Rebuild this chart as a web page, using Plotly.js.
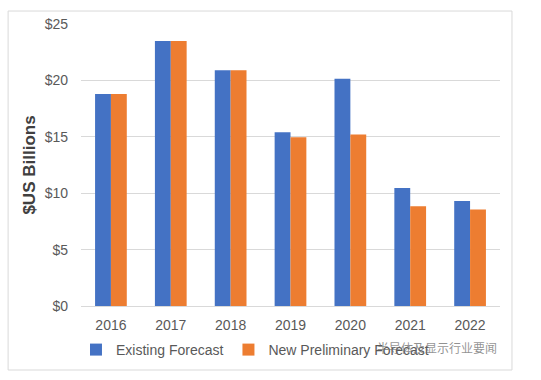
<!DOCTYPE html>
<html>
<head>
<meta charset="utf-8">
<script src="https://cdn.plot.ly/plotly-3.0.1.min.js"></script>
<style>
html,body{margin:0;padding:0;background:#fff;}
#chart{width:541px;height:380px;}
</style>
</head>
<body>
<div id="chart"></div>
<script>
const years = ['2016','2017','2018','2019','2020','2021','2022'];
const existingForecast = [18.8, 23.5, 20.9, 15.4, 20.15, 10.45, 9.3];
const newPreliminaryForecast = [18.8, 23.5, 20.9, 14.95, 15.2, 8.85, 8.55];
const seriesNames = ['Existing Forecast', 'New Preliminary Forecast'];
const yTickValues = [0, 5, 10, 15, 20, 25];
const yTickLabels = ['$0', '$5', '$10', '$15', '$20', '$25'];

const traces = [
  {type:'bar', name:seriesNames[0], x:years, y:existingForecast, marker:{color:'#4472C4'}, hoverinfo:'none'},
  {type:'bar', name:seriesNames[1], x:years, y:newPreliminaryForecast, marker:{color:'#ED7D31'}, hoverinfo:'none'}
];

const layout = {
  width:541, height:380,
  margin:{l:81, r:41, t:24, b:74},
  paper_bgcolor:'#ffffff', plot_bgcolor:'#ffffff',
  font:{family:'"Liberation Sans", Arial, sans-serif', color:'#595959', size:14},
  barmode:'group', bargap:0.47, bargroupgap:0,
  showlegend:true,
  legend:{orientation:'h', x:-0.012, xanchor:'left', y:-0.156, yanchor:'middle',
          font:{size:14, color:'#595959'}, itemwidth:30, tracegroupgap:0, traceorder:'normal'},
  xaxis:{type:'category', showgrid:false, showline:true, linecolor:'#d9d9d9', linewidth:1,
         ticks:'', ticklabelstandoff:6, tickfont:{size:14, color:'#595959'}},
  yaxis:{range:[0,25], tickvals:yTickValues, ticktext:yTickLabels, showgrid:true, gridcolor:'#d9d9d9',
         gridwidth:1, zeroline:false, showline:false, ticks:'', ticklabelstandoff:12,
         tickfont:{size:14, color:'#595959'},
         title:{text:'<b>$US Billions</b>', font:{size:17, color:'#404040'}, standoff:4}},
  shapes:[
    {type:'rect', xref:'paper', yref:'paper', x0:-0.174, x1:1.0286, y0:-0.227, y1:1.046,
     line:{color:'#d9d9d9', width:1}, fillcolor:'rgba(0,0,0,0)', layer:'below'}
  ],
  annotations:[
    {xref:'paper', yref:'paper', x:(437-81)/419, y:(306-347)/282, xanchor:'center', yanchor:'middle',
     text:'半导体及显示行业要闻', showarrow:false,
     font:{family:'"Noto Sans CJK SC", sans-serif', size:12, color:'rgba(110,110,110,0.75)'}}
  ]
};

Plotly.newPlot('chart', traces, layout, {displayModeBar:false, staticPlot:true});
</script>
</body>
</html>
